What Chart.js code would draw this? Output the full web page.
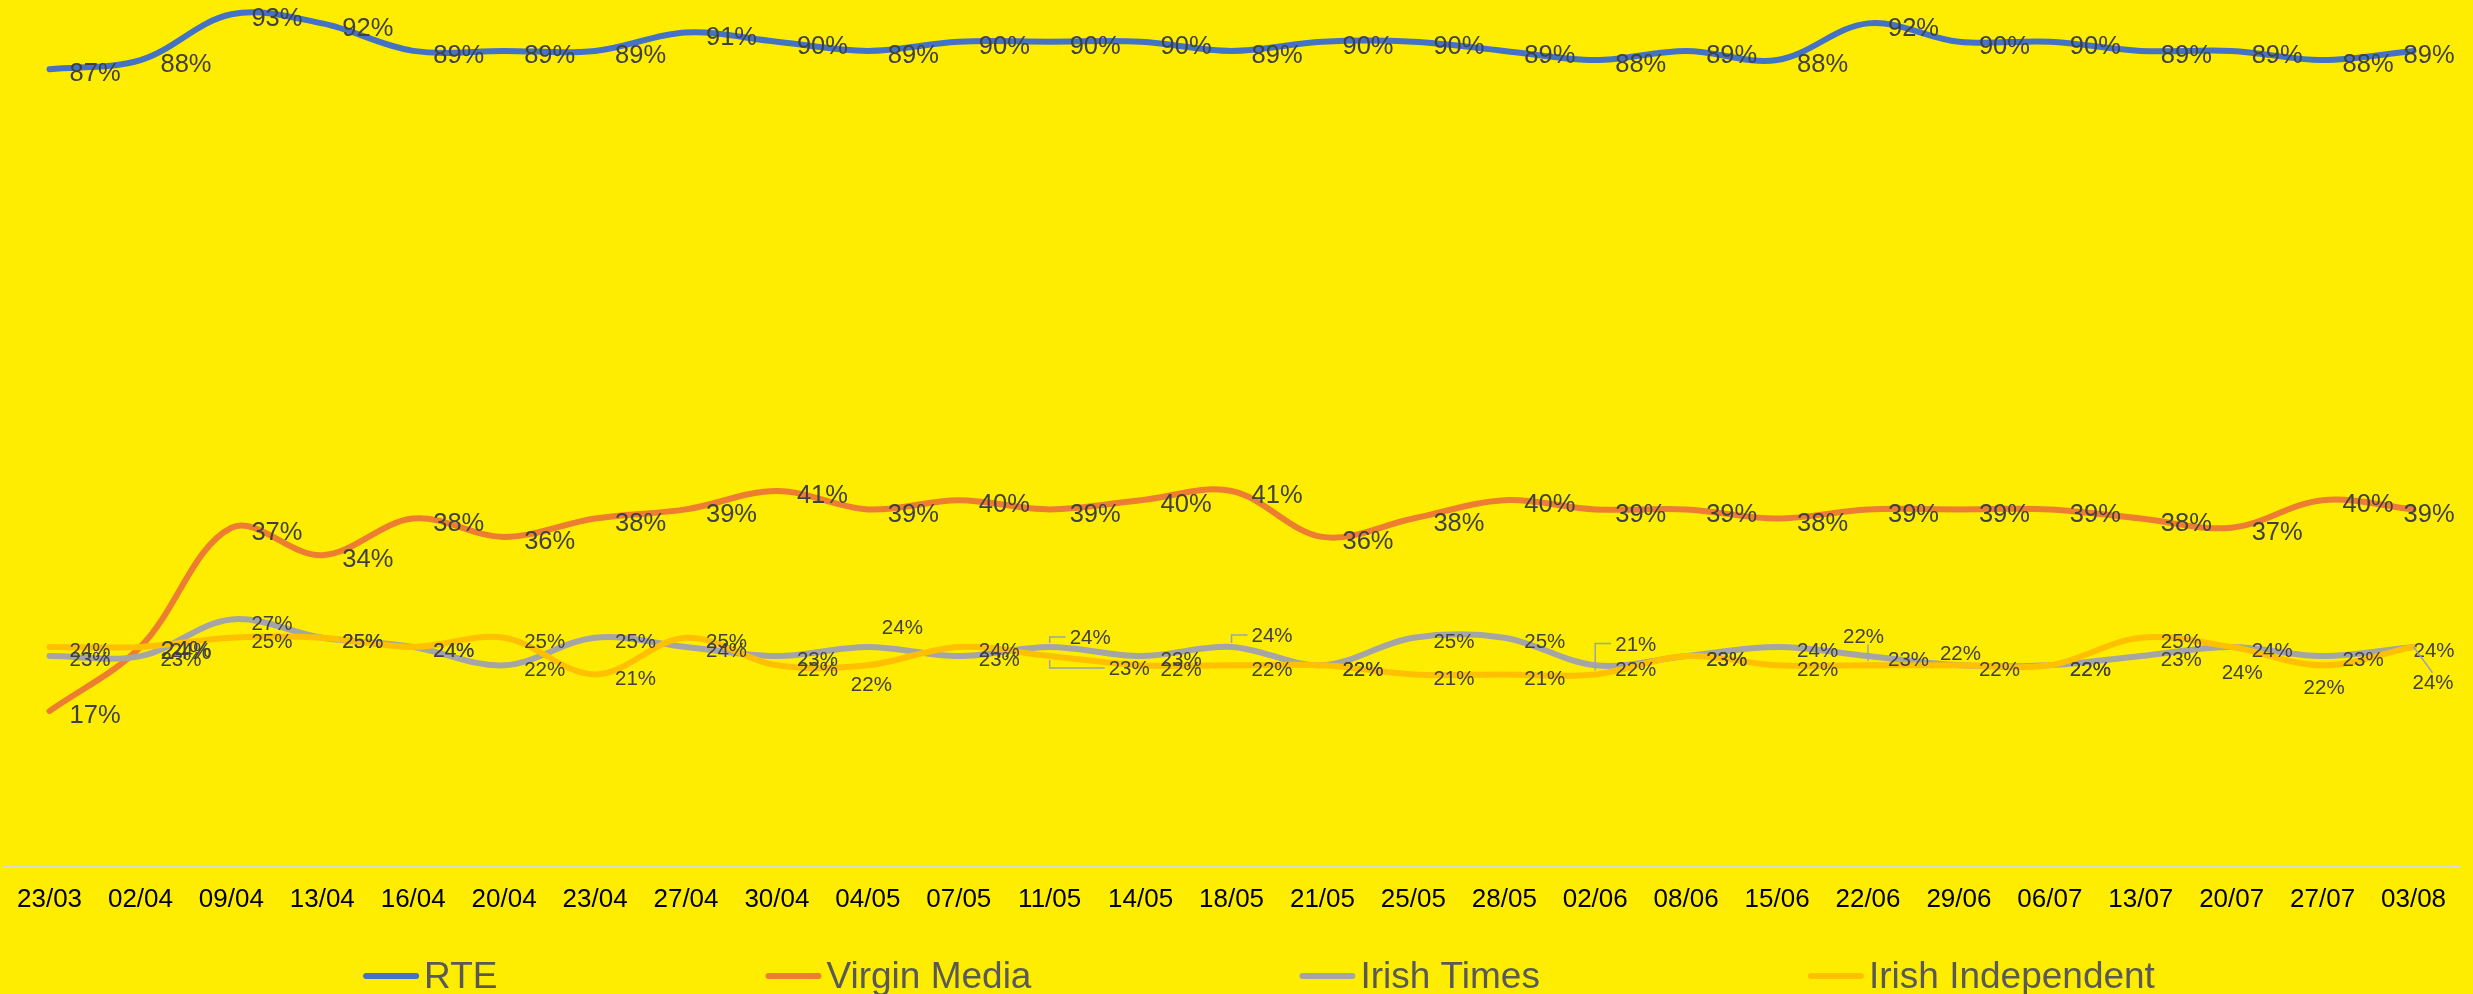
<!DOCTYPE html>
<html>
<head>
<meta charset="utf-8">
<script src="https://cdn.jsdelivr.net/npm/chart.js@4.4.1/dist/chart.umd.min.js"></script>
<style>
html,body{margin:0;padding:0;background:#FFED00;overflow:hidden;}
#wrap{width:2473px;height:994px;}
canvas{display:block;}
</style>
</head>
<body>
<div id="wrap"><canvas id="c" width="2473" height="994"></canvas></div>
<script>
// ---- data ----
const categories = ['23/03','02/04','09/04','13/04','16/04','20/04','23/04','27/04','30/04','04/05','07/05','11/05','14/05','18/05','21/05','25/05','28/05','02/06','08/06','15/06','22/06','29/06','06/07','13/07','20/07','27/07','03/08'];
const rte              = [87,88,93,92,89,89,89,91,90,89,90,90,90,89,90,90,89,88,89,88,92,90,90,89,89,88,89];
const virginMedia      = [17,24,37,34,38,36,38,39,41,39,40,39,40,41,36,38,40,39,39,38,39,39,39,38,37,40,39];
const irishTimes       = [23,23,27,25,24,22,25,24,23,24,23,24,23,24,22,25,25,22,23,24,23,22,22,23,24,23,24];
const irishIndependent = [24,24,25,25,24,25,21,25,22,22,24,23,22,22,22,21,21,21,23,22,22,22,22,25,24,22,24];
const seriesNames  = ['RTE','Virgin Media','Irish Times','Irish Independent'];
const seriesColors = ['#4472C4','#ED7D31','#A5A5A5','#FFC000'];

// ---- label layout (offsets from the point, in px) ----
const labelFontSizes = [25.5, 25.5, 20.5, 20.5];
const labelDefault = [20, 3];
const labelAdjust = [
  {26:[-10,3]},
  {26:[-10,3]},
  {9:[14,-20], 11:[20,-10,'elbow'], 13:[20,-12,'elbow'], 21:[-19,-13], 26:[0,3]},
  {1:[30,3], 9:[-17,18], 11:[59,12,'elbow'], 17:[20,-31,'elbow'], 20:[-25,-30,'vert'], 24:[-10,25], 25:[-19,21], 26:[-1,35,'diag']}
];

const FONT = '"Liberation Sans", Arial, Helvetica, sans-serif';
Chart.defaults.font.family = FONT;

const bgPlugin = {
  id: 'bg',
  beforeDraw(chart) {
    const ctx = chart.ctx;
    ctx.save();
    ctx.fillStyle = '#FFED00';
    ctx.fillRect(0, 0, chart.width, chart.height);
    ctx.restore();
  }
};

const labelPlugin = {
  id: 'pctLabels',
  afterDatasetsDraw(chart) {
    const ctx = chart.ctx;
    ctx.save();
    chart.data.datasets.forEach((ds, i) => {
      const meta = chart.getDatasetMeta(i);
      const size = labelFontSizes[i];
      ctx.font = size + 'px ' + FONT;
      ctx.textAlign = 'left';
      ctx.textBaseline = 'alphabetic';
      meta.data.forEach((pt, j) => {
        const adj = labelAdjust[i][j] || labelDefault;
        const px = pt.x, py = pt.y;
        const lx = px + adj[0], ly = py + adj[1];
        const txt = Math.round(ds.data[j]) + '%';
        if (adj[2]) {
          ctx.strokeStyle = '#9AA3B5';
          ctx.lineWidth = 1.5;
          ctx.beginPath();
          if (adj[2] === 'elbow') {
            ctx.moveTo(px, py + (ly > py ? 4 : -4));
            ctx.lineTo(px, ly);
            ctx.lineTo(lx - 4, ly);
          } else if (adj[2] === 'vert') {
            ctx.moveTo(px, py - 4);
            ctx.lineTo(px, ly + size * 0.45);
          } else {
            ctx.moveTo(px, py);
            ctx.lineTo(lx + 20, ly - size * 0.45);
          }
          ctx.stroke();
        }
        ctx.fillStyle = '#404040';
        ctx.fillText(txt, lx, ly + size * 0.36);
      });
    });
    ctx.restore();
  }
};

const legendPlugin = {
  id: 'bottomLegend',
  afterDraw(chart) {
    const ctx = chart.ctx;
    ctx.save();
    ctx.font = '37px ' + FONT;
    const markW = 56, markGap = 5, itemGap = 268;
    const widths = seriesNames.map(n => ctx.measureText(n).width);
    const total = widths.reduce((a, w) => a + markW + markGap + w, 0) + itemGap * (seriesNames.length - 1);
    let x = 1259 - total / 2;
    const yMark = 976, yText = 988;
    seriesNames.forEach((n, i) => {
      ctx.strokeStyle = seriesColors[i];
      ctx.lineWidth = 6;
      ctx.lineCap = 'round';
      ctx.beginPath();
      ctx.moveTo(x + 3, yMark);
      ctx.lineTo(x + markW - 3, yMark);
      ctx.stroke();
      ctx.fillStyle = '#595959';
      ctx.textAlign = 'left';
      ctx.textBaseline = 'alphabetic';
      ctx.fillText(n, x + markW + markGap, yText);
      x += markW + markGap + widths[i] + itemGap;
    });
    ctx.restore();
  }
};

const seriesData = [rte, virginMedia, irishTimes, irishIndependent];
const datasets = seriesData.map((d, i) => ({
  label: seriesNames[i],
  data: d,
  borderColor: seriesColors[i],
  backgroundColor: seriesColors[i],
  borderWidth: 6,
  borderCapStyle: 'round',
  borderJoinStyle: 'round',
  pointRadius: 0,
  pointHoverRadius: 0,
  tension: 0.35,
  fill: false,
  clip: false,
  order: seriesData.length - i
}));

new Chart(document.getElementById('c'), {
  type: 'line',
  data: { labels: categories, datasets },
  options: {
    responsive: false,
    animation: false,
    devicePixelRatio: 1,
    layout: { padding: { left: 0, right: 14, top: 0, bottom: 0 } },
    plugins: { legend: { display: false }, tooltip: { enabled: false } },
    scales: {
      x: {
        offset: true,
        grid: { display: false, drawTicks: false },
        border: { display: true, color: '#D9D9D9', width: 2 },
        ticks: { color: '#000000', font: { size: 26, family: FONT }, padding: 17, maxRotation: 0, autoSkip: false },
        afterFit(scale) { scale.height = 127; }
      },
      y: {
        display: false,
        min: 0,
        max: 94.55
      }
    }
  },
  plugins: [bgPlugin, labelPlugin, legendPlugin]
});
</script>
</body>
</html>
